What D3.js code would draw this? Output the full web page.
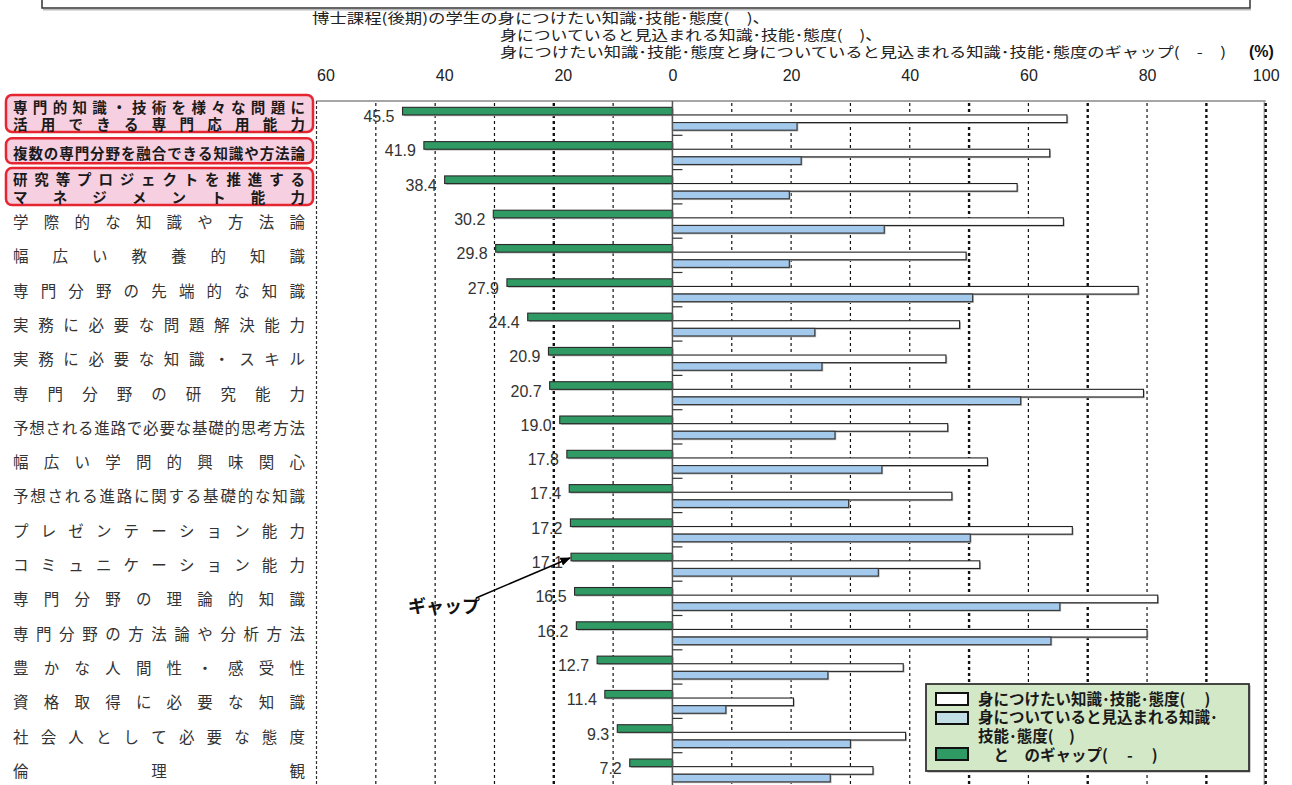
<!DOCTYPE html>
<html>
<head>
<meta charset="utf-8">
<script src="https://cdn.jsdelivr.net/npm/d3@7"></script>
<style>
  body { margin: 0; background: #fff; }
  svg { display: block; }
</style>
</head>
<body>
<svg id="chart" width="1292" height="785"></svg>
<script>
// Abilities (rows, top to bottom)
const categories = [
  "専門的知識・技術を様々な問題に\n活用できる専門応用能力",
  "複数の専門分野を融合できる知識や方法論",
  "研究等プロジェクトを推進する\nマネジメント能力",
  "学際的な知識や方法論",
  "幅広い教養的知識",
  "専門分野の先端的な知識",
  "実務に必要な問題解決能力",
  "実務に必要な知識・スキル",
  "専門分野の研究能力",
  "予想される進路で必要な基礎的思考方法",
  "幅広い学問的興味関心",
  "予想される進路に関する基礎的な知識",
  "プレゼンテーション能力",
  "コミュニケーション能力",
  "専門分野の理論的知識",
  "専門分野の方法論や分析方法",
  "豊かな人間性・感受性",
  "資格取得に必要な知識",
  "社会人として必要な態度",
  "倫理観"
];

// Gap between wanted and expected (%), drawn to the left of zero
const gapValues = [45.5, 41.9, 38.4, 30.2, 29.8, 27.9, 24.4, 20.9, 20.7, 19.0,
                   17.8, 17.4, 17.2, 17.1, 16.5, 16.2, 12.7, 11.4, 9.3, 7.2];
// Knowledge / skills / attitudes the students want to acquire (%)
const wantValues = [66.5, 63.6, 58.1, 65.9, 49.5, 78.5, 48.4, 46.1, 79.4, 46.4,
                    53.1, 47.1, 67.4, 51.8, 81.8, 80.0, 38.9, 20.4, 39.3, 33.8];
// Knowledge / skills / attitudes they expect to have acquired (%)
const haveValues = [21.0, 21.7, 19.7, 35.7, 19.7, 50.6, 24.0, 25.2, 58.7, 27.4,
                    35.3, 29.7, 50.2, 34.7, 65.3, 63.8, 26.2, 9.0, 30.0, 26.6];

const tickValues = [-60, -40, -20, 0, 20, 40, 60, 80, 100];
const gridValues = [-50, -40, -30, -20, -10, 10, 20, 30, 40, 50, 60, 70, 80, 90, 100];
const heavyGrid = [-20, 50, 70, 90, 100];
const highlightedRows = [0, 1, 2];

const titleLines = [
  "博士課程(後期)の学生の身につけたい知識･技能･態度(　)、",
  "身についていると見込まれる知識･技能･態度(　)、",
  "身につけたい知識･技能･態度と身についていると見込まれる知識･技能･態度のギャップ(　-　)"
];
const legendItems = [
  {key: "want", lines: ["身につけたい知識･技能･態度(　 )"]},
  {key: "have", lines: ["身についていると見込まれる知識･", "技能･態度(　)"]},
  {key: "gap",  lines: ["　と　のギャップ(　 -　 )"]}
];

const colors = { gap: "#2f9a63", want: "#ffffff", have: "#a3c9ec", haveLegend: "#c3dfe6" };
const JP = "'Noto Sans CJK JP', 'Noto Sans', sans-serif";
const NUM = "'Liberation Sans', Arial, sans-serif";

const svg = d3.select("#chart");

const x = d3.scaleLinear().domain([-60, 100]).range([316.5, 1265.7]);
const y = d3.scaleBand().domain(d3.range(categories.length)).range([101, 787]);
const sub = d3.scaleBand().domain(["gap", "want", "have"])
  .range([0.6, y.bandwidth() + 0.6]).paddingOuter(0.75);

// header frame (bottom edge of a panel above)
svg.append("rect").attr("x", 43).attr("y", 9).attr("width", 1208).attr("height", 1.5).attr("fill", "#bbb");
svg.append("rect").attr("x", 42).attr("y", -20).attr("width", 1208).attr("height", 28)
  .attr("fill", "none").attr("stroke", "#333").attr("stroke-width", 1.5);

// title (condensed lines)
const titleX = [312, 500, 500];
const titleW = [458, 382, 726];
titleLines.forEach((t, i) => {
  svg.append("text").attr("x", titleX[i]).attr("y", 23 + i * 17)
    .attr("font-family", JP).attr("font-size", 14).attr("fill", "#222")
    .attr("textLength", titleW[i]).attr("lengthAdjust", "spacingAndGlyphs")
    .text(t);
});
svg.append("text").attr("x", 1249).attr("y", 57)
  .attr("font-family", NUM).attr("font-size", 16).attr("font-weight", "bold").attr("fill", "#111")
  .text("(%)");

// top axis labels
const axis = svg.append("g").attr("transform", "translate(0,81)")
  .call(d3.axisTop(x).tickValues(tickValues).tickFormat(d => Math.abs(d)).tickSize(0).tickPadding(0));
axis.select(".domain").remove();
axis.selectAll("text")
  .attr("font-family", NUM).attr("font-size", 16).attr("fill", "#222")
  .attr("dx", d => d < 0 ? 9 : 0);

// plot frame
const plotTop = y.range()[0], plotBottom = y.range()[1];
svg.append("line").attr("x1", x(-60)).attr("x2", x(100)).attr("y1", plotTop).attr("y2", plotTop)
  .attr("stroke", "#888").attr("stroke-width", 1.5);
svg.append("line").attr("x1", x(-60)).attr("x2", x(-60)).attr("y1", plotTop).attr("y2", plotBottom)
  .attr("stroke", "#333").attr("stroke-width", 1.2).attr("stroke-dasharray", "3,2");
svg.append("line").attr("x1", x(100) - 1.5).attr("x2", x(100) - 1.5).attr("y1", plotTop).attr("y2", plotBottom)
  .attr("stroke", "#999").attr("stroke-width", 1.2);

// grid lines
svg.append("g").selectAll("line").data(gridValues).join("line")
  .attr("x1", d => x(d)).attr("x2", d => x(d))
  .attr("y1", plotTop + 2).attr("y2", plotBottom)
  .attr("stroke", "#111")
  .attr("stroke-width", d => heavyGrid.includes(d) ? 2.4 : 1.2)
  .attr("stroke-dasharray", "3,3");

// bars
const rows = svg.append("g").selectAll("g").data(categories).join("g")
  .attr("transform", (d, i) => `translate(0,${y(i)})`);
const bh = sub.bandwidth();

function bar(sel, key, x0, x1, fill, stroke) {
  sel.append("rect").attr("x", x0 + 1.3).attr("y", sub(key) + 1.3)
    .attr("width", Math.max(0, x1 - x0)).attr("height", bh).attr("fill", "#b4b4b4");
  sel.append("rect").attr("x", x0).attr("y", sub(key))
    .attr("width", Math.max(0, x1 - x0)).attr("height", bh)
    .attr("fill", fill).attr("stroke", stroke).attr("stroke-width", 1.1);
}
rows.each(function(d, i) {
  const g = d3.select(this);
  bar(g, "gap", x(-gapValues[i]), x(0), colors.gap, "#2a2a2a");
  bar(g, "want", x(0), x(wantValues[i]), colors.want, "#222");
  bar(g, "have", x(0), x(haveValues[i]), colors.have, "#333");
  g.append("text")
    .attr("x", x(-gapValues[i]) - 8).attr("y", sub("gap") + bh / 2 + 11)
    .attr("text-anchor", "end")
    .attr("font-family", NUM).attr("font-size", 16).attr("fill", "#333")
    .text(gapValues[i].toFixed(1));
});

// zero axis with category ticks
svg.append("line").attr("x1", x(0)).attr("x2", x(0)).attr("y1", plotTop).attr("y2", plotBottom)
  .attr("stroke", "#555").attr("stroke-width", 1.5);
svg.append("g").selectAll("line").data(d3.range(1, categories.length)).join("line")
  .attr("x1", x(0)).attr("x2", x(0) + 10)
  .attr("y1", i => y(i)).attr("y2", i => y(i))
  .attr("stroke", "#333").attr("stroke-width", 1.2);

// category labels, spread evenly across the label column
const labelX0 = 13, labelX1 = 305;
function distributed(g, text, cy, size, weight) {
  const chars = Array.from(text);
  const n = chars.length;
  const step = n > 1 ? (labelX1 - labelX0 - size) / (n - 1) : 0;
  g.append("g").selectAll("text").data(chars).join("text")
    .attr("x", (c, k) => labelX0 + k * step)
    .attr("y", cy)
    .attr("dominant-baseline", "central")
    .attr("font-family", JP).attr("font-size", size)
    .attr("font-weight", weight).attr("fill", weight === "bold" ? "#1a1a1a" : "#333")
    .text(c => c);
}
const boxOffsets = { 0: [-6, 37, -3], 1: [3, 25, 0], 2: [-1.5, 37, 0.5] };
const labels = svg.append("g");
categories.forEach((label, i) => {
  const cy = y(i) + y.bandwidth() / 2;
  const lines = label.split("\n");
  const hl = highlightedRows.includes(i);
  let shift = 0;
  if (hl) {
    const [off, h, s] = boxOffsets[i];
    shift = s;
    labels.append("rect").attr("x", 6).attr("y", y(i) + off).attr("width", 307).attr("height", h)
      .attr("rx", 6).attr("fill", "#f6cfe0").attr("stroke", "#e5252f").attr("stroke-width", 2.5);
  }
  lines.forEach((line, k) => {
    const ly = cy + shift + (k - (lines.length - 1) / 2) * 17.5;
    distributed(labels, line, ly, hl ? 14.5 : 15.5, hl ? "bold" : "normal");
  });
});

// annotation arrow to the gap bar
const arrowRow = 13;
const tipX = x(-gapValues[arrowRow]) - 1;
const tipY = y(arrowRow) + sub("gap") + bh / 2 + 1;
svg.append("defs").append("marker").attr("id", "arrow")
  .attr("viewBox", "0 0 10 10").attr("refX", 9).attr("refY", 5)
  .attr("markerWidth", 7).attr("markerHeight", 7).attr("orient", "auto")
  .append("path").attr("d", "M0,1 L10,5 L0,9 Z").attr("fill", "#000");
svg.append("line").attr("x1", 476).attr("y1", 598).attr("x2", tipX).attr("y2", tipY)
  .attr("stroke", "#000").attr("stroke-width", 1.5).attr("marker-end", "url(#arrow)");
svg.append("text").attr("x", 408).attr("y", 613)
  .attr("font-family", JP).attr("font-size", 18).attr("font-weight", "bold").attr("fill", "#111")
  .text("ギャップ");

// legend
const lg = svg.append("g").attr("transform", "translate(926,684)");
lg.append("rect").attr("x", 1.5).attr("y", 1.5).attr("width", 323).attr("height", 87).attr("fill", "#999");
lg.append("rect").attr("width", 323).attr("height", 87)
  .attr("fill", "#d3e8c7").attr("stroke", "#333").attr("stroke-width", 1.8);
const swatchY = { want: 9, have: 28, gap: 64 };
const swatchFill = { want: colors.want, have: colors.haveLegend, gap: colors.gap };
let lineIdx = 0;
legendItems.forEach(item => {
  lg.append("rect").attr("x", 10).attr("y", swatchY[item.key]).attr("width", 32).attr("height", 12)
    .attr("fill", swatchFill[item.key]).attr("stroke", "#111").attr("stroke-width", 2);
  item.lines.forEach(t => {
    lg.append("text").attr("x", 52).attr("y", 20.5 + lineIdx * 18.8)
      .attr("font-family", JP).attr("font-size", 15.5).attr("font-weight", "bold").attr("fill", "#1a1a1a")
      .text(t);
    lineIdx++;
  });
});
</script>
</body>
</html>
